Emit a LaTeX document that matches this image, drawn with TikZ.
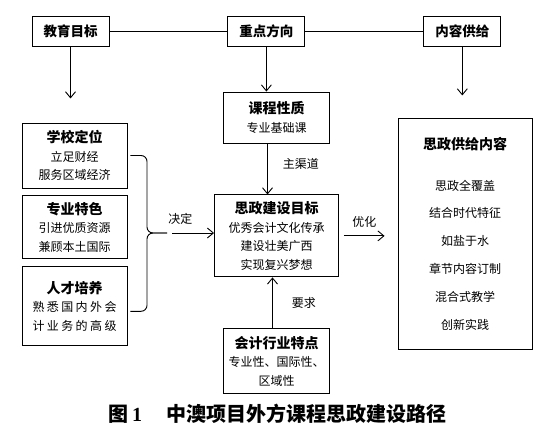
\documentclass[tikz,border=0pt]{standalone}
\usepackage{fontspec}
\newfontfamily\cjk{Noto Sans CJK SC}
\newfontfamily\capnum{Liberation Serif}
\usetikzlibrary{arrows.meta,positioning}
\newcommand{\boxtitle}[1]{{\fontsize{14}{18.5}\selectfont\bfseries #1}}
\newcommand{\spread}[1]{{\addfontfeature{LetterSpace=20}#1}}

\begin{document}
\begin{tikzpicture}[x=1pt, y=-1pt,
  box/.style={draw, line width=0.9pt, align=center, inner sep=2pt,
    font=\cjk\fontsize{12}{18.5}\selectfont},
  topbox/.style={box, minimum width=77pt, minimum height=30pt,
    font=\cjk\fontsize{13.5}{16}\selectfont\bfseries},
  sidebox/.style={box, minimum width=105pt},
  midbox/.style={box, minimum width=106pt},
  link/.style={line width=0.9pt},
  arr/.style={line width=0.9pt, -{Straight Barb[length=6pt, width=10pt]}},
  lbl/.style={font=\cjk\fontsize{12}{14}\selectfont, inner sep=1pt},
  captext/.style={font=\cjk\fontsize{20}{24}\selectfont\bfseries, inner sep=0pt},
]
  \useasboundingbox (0,0) rectangle (560,434);

  % --- top row: the three headings ------------------------------------
  \node[topbox] (goal) at (70.5,31) {教育目标};
  \node[topbox, right=118pt of goal] (focus) {重点方向};
  \node[topbox, right=118pt of focus] (supply) {内容供给};
  \draw[link] (goal) -- (focus);
  \draw[link] (focus) -- (supply);

  % --- left column ----------------------------------------------------
  \node[sidebox, minimum height=65pt] (school) at (74.5,155.5)
    {\boxtitle{学校定位}\\ 立足财经\\ 服务区域经济};
  \node[sidebox, minimum height=63pt, below=7pt of school] (major)
    {\boxtitle{专业特色}\\ 引进优质资源\\ 兼顾本土国际};
  \node[sidebox, minimum height=79pt, below=7pt of major] (talent)
    {\boxtitle{人才培养}\\ \spread{熟悉国内外会}\\ \spread{计业务的高级}};

  % --- middle column --------------------------------------------------
  \node[midbox, minimum height=51pt] (course) at (276.5,117.5)
    {\boxtitle{课程性质}\\ 专业基础课};
  \node[box, minimum width=124pt, minimum height=82pt, below=51pt of course] (target)
    {\boxtitle{思政建设目标}\\ 优秀会计文化传承\\ 建设壮美广西\\ 实现复兴梦想};
  \node[midbox, minimum height=65pt, below=51pt of target] (industry)
    {\boxtitle{会计行业特点}\\ 专业性、国际性、\\ 区域性};

  % --- right column ---------------------------------------------------
  \node[box, minimum width=134pt, minimum height=231pt,
    font=\cjk\fontsize{12}{27.8}\selectfont] (content) at (465,233.5)
    {\boxtitle{思政供给内容}\\[13pt] 思政全覆盖\\ 结合时代特征\\ 如盐于水\\
     章节内容订制\\ 混合式教学\\ 创新实践};

  % --- arrows from the headings ---------------------------------------
  \coordinate (goalend) at ([yshift=-52pt]goal.south);
  \coordinate (supplyend) at ([yshift=-49pt]supply.south);
  \draw[arr] (goal.south) -- (goalend);
  \draw[arr] (focus.south) -- (focus.south |- course.north);
  \draw[arr] (supply.south) -- (supplyend);

  % --- brace over the left column -------------------------------------
  \coordinate (bracemid) at (147,233);
  \coordinate (bracetip) at (167,233);
  \draw[link, rounded corners=6pt] ([xshift=3pt]school.east) -| (bracemid) -- (bracetip);
  \draw[link, rounded corners=6pt] ([xshift=3pt,yshift=-5pt]talent.east) -| (bracemid) -- (bracetip);
  \draw[arr] ([xshift=5pt]bracetip) -- (target.west |- bracetip)
    node[lbl, pos=0.2, above=7pt] (decide) {决定};

  % --- arrows into and out of the target ------------------------------
  \draw[arr] ([xshift=-9pt]course.south) -- ([xshift=-9pt]course.south |- target.north)
    node[lbl, pos=0.4, right=14pt] (channel) {主渠道};
  \draw[arr] ([xshift=-4pt]industry.north) -- ([xshift=-4pt]industry.north |- target.south)
    node[lbl, midway, right=18pt] (demand) {要求};
  \coordinate (optend) at ([xshift=-13pt]content.west |- target.east);
  \draw[arr] ([xshift=5pt]target.east) -- (optend)
    node[lbl, midway, above=7pt] (optimise) {优化};

  % --- caption --------------------------------------------------------
  \node[captext] (cap) at (277.5,414)
    {图\,{\capnum\bfseries 1}\hspace{24pt}中澳项目外方课程思政建设路径};
\end{tikzpicture}
\end{document}
